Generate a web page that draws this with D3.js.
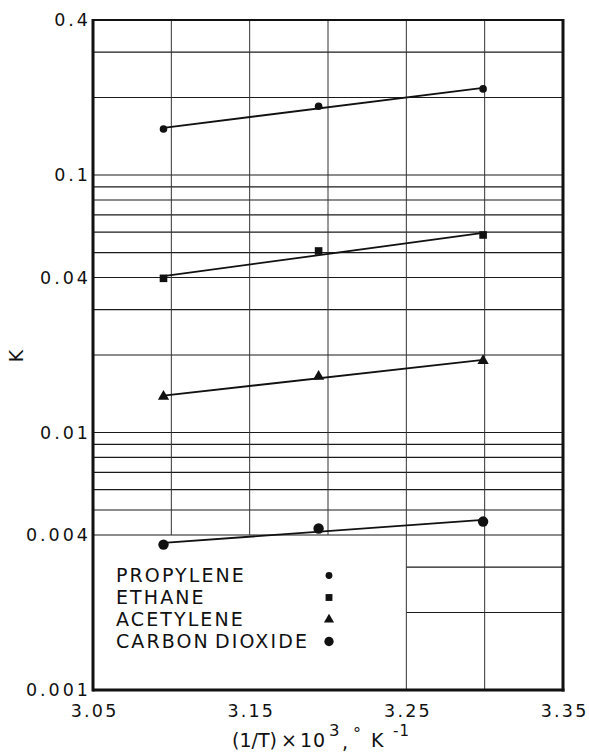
<!DOCTYPE html>
<html>
<head>
<meta charset="utf-8">
<script src="https://cdn.jsdelivr.net/npm/d3@7"></script>
<style>
  html, body { margin: 0; padding: 0; background: #fff; }
  svg { display: block; }
  text { font-family: "DejaVu Sans", sans-serif; fill: #111; }
</style>
</head>
<body>
<svg id="chart" width="589" height="752"></svg>
<script>
// Reciprocal temperature (1/T x 10^3, 1/K) for the three measurement temperatures
const invTemp = [3.095, 3.194, 3.299];

// Distribution coefficient K for each gas
const propylene = [0.151, 0.185, 0.216];
const ethane = [0.0397, 0.0507, 0.0585];
const acetylene = [0.0138, 0.0165, 0.0190];
const carbonDioxide = [0.00367, 0.00424, 0.00451];

const seriesNames = ["PROPYLENE", "ETHANE", "ACETYLENE", "CARBON DIOXIDE"];
const seriesSymbols = ["dot", "square", "triangle", "circle"];

// Axis ticks and grid
const xTickValues = [3.05, 3.15, 3.25, 3.35];
const xTickLabels = ["3.05", "3.15", "3.25", "3.35"];
const yTickValues = [0.4, 0.1, 0.04, 0.01, 0.004, 0.001];
const yTickLabels = ["0.4", "0.1", "0.04", "0.01", "0.004", "0.001"];
const hGridFull = [0.3, 0.2, 0.1, 0.09, 0.08, 0.07, 0.06, 0.05, 0.04, 0.03, 0.02,
                   0.01, 0.009, 0.008, 0.007, 0.006, 0.005, 0.004];
const hGridRight = [0.003, 0.002];
const vGridUpper = [3.10, 3.15, 3.20];
const vGridFull = [3.25, 3.30];

const svg = d3.select("#chart");
const margin = { left: 93, right: 26, top: 20, bottom: 62 };
const W = 589, H = 752;

const x = d3.scaleLinear().domain([3.05, 3.35]).range([margin.left, W - margin.right]);
const y = d3.scaleLog().domain([0.001, 0.4]).range([H - margin.bottom, margin.top]);

const gridStroke = "#1a1a1a";

// Horizontal grid lines
svg.append("g").selectAll("line").data(hGridFull).join("line")
  .attr("x1", x(3.05)).attr("x2", x(3.35))
  .attr("y1", d => y(d)).attr("y2", d => y(d))
  .attr("stroke", gridStroke).attr("stroke-width", 1.2);

svg.append("g").selectAll("line").data(hGridRight).join("line")
  .attr("x1", x(3.25)).attr("x2", x(3.35))
  .attr("y1", d => y(d)).attr("y2", d => y(d))
  .attr("stroke", gridStroke).attr("stroke-width", 1.2);

// Vertical grid lines (the lower-left corner is left open for the legend)
svg.append("g").selectAll("line").data(vGridUpper).join("line")
  .attr("x1", d => x(d)).attr("x2", d => x(d))
  .attr("y1", y(0.4)).attr("y2", y(0.004))
  .attr("stroke", "#333").attr("stroke-width", 1);

svg.append("g").selectAll("line").data(vGridFull).join("line")
  .attr("x1", d => x(d)).attr("x2", d => x(d))
  .attr("y1", y(0.4)).attr("y2", y(0.001))
  .attr("stroke", "#333").attr("stroke-width", 1);

// Frame
svg.append("line").attr("x1", x(3.05)).attr("x2", x(3.35)).attr("y1", y(0.4)).attr("y2", y(0.4))
  .attr("stroke", "#111").attr("stroke-width", 2.2);
svg.append("line").attr("x1", x(3.05)).attr("x2", x(3.35) + 1.5).attr("y1", y(0.001)).attr("y2", y(0.001))
  .attr("stroke", "#111").attr("stroke-width", 3);
svg.append("line").attr("x1", x(3.05)).attr("x2", x(3.05)).attr("y1", y(0.4) - 1).attr("y2", y(0.001) + 1.5)
  .attr("stroke", "#111").attr("stroke-width", 3);
svg.append("line").attr("x1", x(3.35)).attr("x2", x(3.35)).attr("y1", y(0.4) - 1).attr("y2", y(0.001) + 1.5)
  .attr("stroke", "#111").attr("stroke-width", 3);

// Axes (labels only; the frame is drawn above)
const yAxis = d3.axisLeft(y).tickValues(yTickValues)
  .tickFormat((d, i) => yTickLabels[i]).tickSize(0).tickPadding(0);
const gy = svg.append("g").attr("transform", `translate(${x(3.05) - 2},0)`).call(yAxis);
gy.select(".domain").remove();
gy.selectAll("text")
  .attr("font-family", "DejaVu Sans, sans-serif")
  .attr("font-size", 17.5).attr("letter-spacing", 3).attr("fill", "#111");

const xAxis = d3.axisBottom(x).tickValues(xTickValues)
  .tickFormat((d, i) => xTickLabels[i]).tickSize(0).tickPadding(0);
const gx = svg.append("g").attr("transform", `translate(0,${y(0.001)})`).call(xAxis);
gx.select(".domain").remove();
gx.selectAll("text")
  .attr("font-family", "DejaVu Sans, sans-serif")
  .attr("font-size", 17.5).attr("letter-spacing", 2.2)
  .attr("dy", null).attr("y", 26.5).attr("dx", 1.1).attr("fill", "#111");

// Fitted lines (least squares in log K) and data symbols
const allSeries = [propylene, ethane, acetylene, carbonDioxide];

function fitLog(vals) {
  const n = invTemp.length;
  const ly = vals.map(Math.log10);
  const mx = d3.mean(invTemp), my = d3.mean(ly);
  let sxy = 0, sxx = 0;
  for (let i = 0; i < n; i++) {
    sxy += (invTemp[i] - mx) * (ly[i] - my);
    sxx += (invTemp[i] - mx) ** 2;
  }
  const b = sxy / sxx, a = my - b * mx;
  return t => Math.pow(10, a + b * t);
}

const xFirst = d3.min(invTemp), xLast = d3.max(invTemp);
allSeries.forEach(vals => {
  const f = fitLog(vals);
  svg.append("line")
    .attr("x1", x(xFirst)).attr("y1", y(f(xFirst)))
    .attr("x2", x(xLast)).attr("y2", y(f(xLast)))
    .attr("stroke", "#111").attr("stroke-width", 1.8);
});

function drawSymbol(g, kind, cx, cy, scale) {
  const s = scale || 1;
  if (kind === "dot") {
    g.append("circle").attr("cx", cx).attr("cy", cy).attr("r", 3.8 * s).attr("fill", "#111");
  } else if (kind === "square") {
    const a = 7.6 * s;
    g.append("rect").attr("x", cx - a / 2).attr("y", cy - a / 2).attr("width", a).attr("height", a).attr("fill", "#111");
  } else if (kind === "triangle") {
    const sym = d3.symbol().type(d3.symbolTriangle).size(55 * s * s);
    g.append("path").attr("d", sym()).attr("transform", `translate(${cx},${cy})`).attr("fill", "#111");
  } else {
    g.append("circle").attr("cx", cx).attr("cy", cy).attr("r", 5.2 * s).attr("fill", "#111");
  }
}

const marks = svg.append("g");
allSeries.forEach((vals, si) => {
  vals.forEach((v, i) => drawSymbol(marks, seriesSymbols[si], x(invTemp[i]), y(v)));
});

// Legend
const legend = svg.append("g");
const legendX = 116, legendY0 = 582, legendStep = 22;
seriesNames.forEach((name, i) => {
  legend.append("text")
    .attr("x", legendX).attr("y", legendY0 + i * legendStep)
    .attr("font-size", 19).attr("letter-spacing", 2.1).attr("word-spacing", -3)
    .text(name);
  drawSymbol(legend, seriesSymbols[i], x(3.20) + 1, legendY0 + i * legendStep - 6.5, 0.9);
});

// Axis titles
const xt = svg.append("text").attr("y", 747).attr("font-size", 19);
xt.append("tspan").attr("x", 232).text("(1/T)");
xt.append("tspan").attr("x", 281).text("×");
xt.append("tspan").attr("x", 300).attr("letter-spacing", 1).text("10");
xt.append("tspan").attr("x", 329).attr("y", 736).attr("font-size", 16.5).text("3");
xt.append("tspan").attr("x", 342).attr("y", 749).text(",");
xt.append("tspan").attr("x", 353).attr("y", 739).attr("font-size", 16).text("°");
xt.append("tspan").attr("x", 371).attr("y", 747).text("K");
xt.append("tspan").attr("x", 393).attr("y", 735.5).attr("font-size", 15).attr("letter-spacing", 1).text("-1");

svg.append("text")
  .attr("transform", "translate(23,356) rotate(-90)")
  .attr("text-anchor", "middle")
  .attr("font-size", 19)
  .text("K");
</script>
</body>
</html>
